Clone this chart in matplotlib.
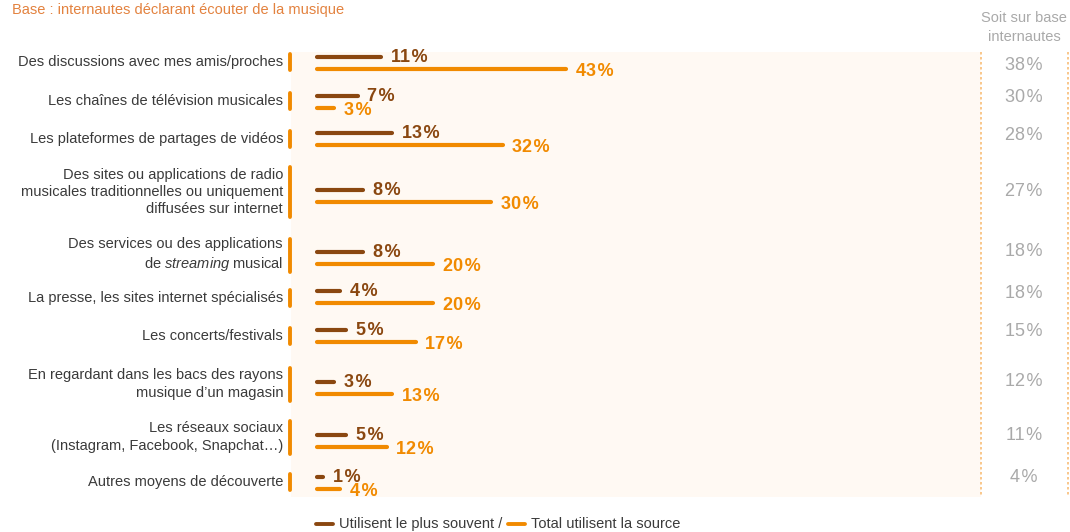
import matplotlib
matplotlib.use("Agg")
import matplotlib.pyplot as plt

plt.rcParams['font.family'] = ['Liberation Sans', 'DejaVu Sans']
plt.rcParams['mathtext.fontset'] = 'custom'
plt.rcParams['mathtext.rm'] = 'Liberation Sans'
plt.rcParams['mathtext.it'] = 'Liberation Sans:italic'

# ---- data -------------------------------------------------------------
categories = [
    "Des discussions avec mes amis/proches",
    "Les chaînes de télévision musicales",
    "Les plateformes de partages de vidéos",
    "Des sites ou applications de radio\nmusicales traditionnelles ou uniquement\ndiffusées sur internet",
    "Des services ou des applications\nde $\\mathit{streaming}$ musical",
    "La presse, les sites internet spécialisés",
    "Les concerts/festivals",
    "En regardant dans les bacs des rayons\nmusique d’un magasin",
    "Les réseaux sociaux\n(Instagram, Facebook, Snapchat…)",
    "Autres moyens de découverte",
]
most_used = [11, 7, 13, 8, 8, 4, 5, 3, 5, 1]
total_used = [43, 3, 32, 30, 20, 20, 17, 13, 12, 4]
share_internautes = [38, 30, 28, 27, 18, 18, 15, 12, 11, 4]

title = "Base : internautes déclarant écouter de la musique"
side_header = "Soit sur base\ninternautes"
legend_labels = ["Utilisent le plus souvent /", "Total utilisent la source"]

# ---- styles & layout (pixel units, figure is 1070 x 532) ---------------
BROWN = "#8A4710"
ORANGE = "#F18A00"
CREAM = "#FFF9F3"
TEXT = "#3A3A3A"
GREY = "#A9A9A9"
TITLE_C = "#E3823F"

W, H = 1070, 532
row_y = [63, 102, 139, 196, 258, 297, 336, 388, 441, 483]      # pair centres
label_y = [62, 101, 139, 192, 255, 298, 336, 384, 437, 482]    # category text
share_y = [65, 97, 136, 192, 252, 294, 331, 382, 436, 478]     # right column
pair_gap = 6

panel_l, panel_r, panel_t, panel_b = 291, 981, 52, 497
zero_px, px_per_pct = 317, 5.8

fig = plt.figure(figsize=(W / 100, H / 100), dpi=100)

ax = fig.add_axes([panel_l / W, 1 - panel_b / H,
                   (panel_r - panel_l) / W, (panel_b - panel_t) / H])
ax.set_facecolor(CREAM)
ax.set_xlim((panel_l - zero_px) / px_per_pct, (panel_r - zero_px) / px_per_pct)
ax.set_ylim(panel_b, panel_t)
for s in ax.spines.values():
    s.set_visible(False)
ax.set_xticks([])
ax.set_yticks([])

fmt = lambda v: f"{v}\u200a%"

for y, m, t in zip(row_y, most_used, total_used):
    yb, yo = y - pair_gap, y + pair_gap
    ax.plot([0, m], [yb, yb], color=BROWN, lw=3.0, solid_capstyle="round")
    ax.plot([0, t], [yo, yo], color=ORANGE, lw=3.0, solid_capstyle="round")
    ax.annotate(fmt(m), (m, yb), xytext=(7, -0.5), textcoords="offset points",
                ha="left", va="center", color=BROWN, fontsize=13,
                fontweight="bold", annotation_clip=False)
    ax.annotate(fmt(t), (t, yo), xytext=(7, -1.5), textcoords="offset points",
                ha="left", va="center", color=ORANGE, fontsize=13,
                fontweight="bold", annotation_clip=False)

# overlay for text, ticks, side column and legend
ov = fig.add_axes([0, 0, 1, 1], facecolor="none")
ov.set_xlim(0, W)
ov.set_ylim(H, 0)
ov.axis("off")

ov.text(12, 10, title, color=TITLE_C, fontsize=10.5, ha="left", va="center")

for cat, ly in zip(categories, label_y):
    n = cat.count("\n") + 1
    ov.text(283, ly, cat, ha="right", va="center", multialignment="right",
            color=TEXT, fontsize=10.5, linespacing=1.3)
    half = (20 + (n - 1) * 17) / 2
    ov.plot([290, 290], [ly - half + 2, ly + half - 2], color=ORANGE, lw=2.8,
            solid_capstyle="round")

# side column
ov.text(1024, 27.5, side_header, ha="center", va="center", color=GREY,
        fontsize=10.5, linespacing=1.5)
for x in (981, 1068):
    ov.plot([x, x], [panel_t, panel_b], color="#F8BE78", lw=1.2,
            linestyle=(0, (1.5, 1.5)))
for v, sy in zip(share_internautes, share_y):
    ov.text(1024, sy, fmt(v), ha="center", va="center", color=GREY,
            fontsize=13)

# legend
ov.plot([316, 333], [524, 524], color=BROWN, lw=2.8, solid_capstyle="round")
ov.text(339, 524, legend_labels[0], ha="left", va="center", color=TEXT,
        fontsize=10.5)
ov.plot([508, 525], [524, 524], color=ORANGE, lw=2.8, solid_capstyle="round")
ov.text(531, 524, legend_labels[1], ha="left", va="center", color=TEXT,
        fontsize=10.5)

fig.savefig("out.png", dpi=100, facecolor="white")
